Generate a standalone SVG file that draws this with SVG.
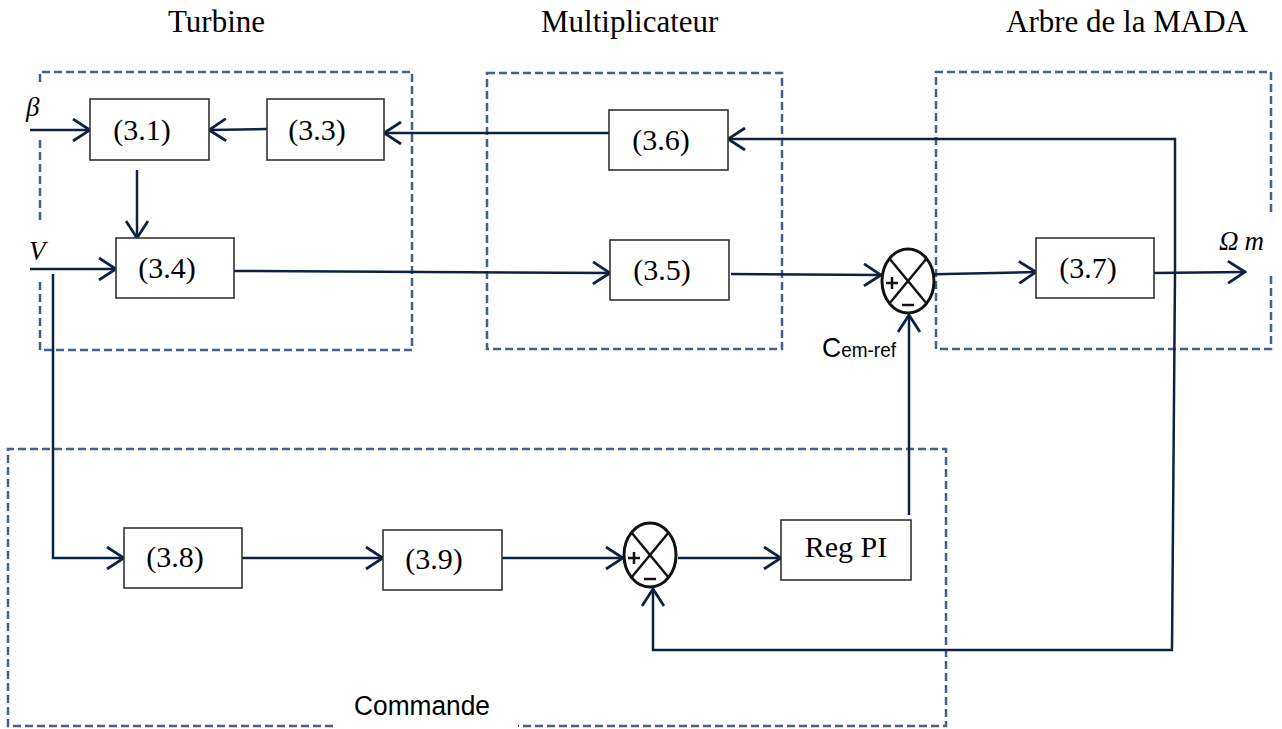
<svg xmlns="http://www.w3.org/2000/svg" width="1282" height="729" viewBox="0 0 1282 729">
<style>
.frame{fill:none;stroke:#41618f;stroke-width:2.5;stroke-dasharray:8 4}
.blk{fill:#fff;stroke:#333;stroke-width:1.6}
.lbl{font-family:"Liberation Serif",serif;font-size:30px;fill:#000}
.title{font-family:"Liberation Serif",serif;font-size:31px;fill:#000}
.var{font-family:"Liberation Serif",serif;font-style:italic;font-size:27px;fill:#000}
.wire{fill:none;stroke:#0d2240;stroke-width:2.5}
.sum{fill:#fff;stroke:#111;stroke-width:3}
.sym{stroke:#111;stroke-width:2.5}
</style>
<defs>
<marker id="arr" viewBox="0 0 20 24" refX="18" refY="12" markerWidth="20" markerHeight="24" markerUnits="userSpaceOnUse" orient="auto">
<path d="M1,1 L18,12 L1,23" fill="none" stroke="#0d2240" stroke-width="2.8"/>
</marker>
</defs>
<rect width="1282" height="729" fill="#fff"/>

<g id="titles">
<text class="title" x="168" y="32">Turbine</text>
<text class="title" x="541" y="32">Multiplicateur</text>
<text class="title" x="1006" y="32">Arbre de la MADA</text>
</g>

<g id="frames">
<path class="frame" d="M40,82 L40,72 L412,72 L412,350 L40,350 L40,282 M40,220 L40,140"/>
<rect class="frame" x="487" y="73" width="295" height="276"/>
<path class="frame" d="M1271,212 L1271,72 L936,72 L936,349 L1271,349 L1271,273"/>
<path class="frame" d="M333,726 L8,726 L8,449 L946,449 L946,726 L518,726"/>
<text x="422" y="715" text-anchor="middle" font-family="Liberation Sans,Arial,sans-serif" font-size="27" textLength="136" lengthAdjust="spacingAndGlyphs">Commande</text>
</g>

<g id="connectors">
<line class="wire" x1="30" y1="130" x2="90" y2="130" marker-end="url(#arr)"/>
<line class="wire" x1="30" y1="269" x2="116" y2="269" marker-end="url(#arr)"/>
<line class="wire" x1="267" y1="129" x2="209" y2="130" marker-end="url(#arr)"/>
<line class="wire" x1="137" y1="170" x2="137" y2="238" marker-end="url(#arr)"/>
<line class="wire" x1="609" y1="133" x2="384" y2="133" marker-end="url(#arr)"/>
<line class="wire" x1="234" y1="271" x2="610" y2="273" marker-end="url(#arr)"/>
<line class="wire" x1="731" y1="274" x2="881" y2="275" marker-end="url(#arr)"/>
<line class="wire" x1="898" y1="275" x2="1036" y2="272" marker-end="url(#arr)"/>
<line class="wire" x1="1154" y1="273" x2="1245" y2="272" marker-end="url(#arr)"/>
<polyline class="wire" points="1175,273 1175,139 728,139" marker-end="url(#arr)"/>
<polyline class="wire" points="1175,273 1172,650 653,650 653,589" marker-end="url(#arr)"/>
<polyline class="wire" points="53,274 53,558 124,558" marker-end="url(#arr)"/>
<line class="wire" x1="242" y1="558" x2="383" y2="558" marker-end="url(#arr)"/>
<line class="wire" x1="502" y1="558" x2="623" y2="558" marker-end="url(#arr)"/>
<line class="wire" x1="678" y1="558" x2="781" y2="558" marker-end="url(#arr)"/>
<line class="wire" x1="909" y1="515" x2="909" y2="315" marker-end="url(#arr)"/>
</g>

<g id="inputs">
<text class="var" x="26" y="116">β</text>
<text class="var" x="29" y="260">V</text>
<text class="var" x="1219" y="250" font-size="28" letter-spacing="6">Ωm</text>
<text x="822" y="357" font-family="Liberation Sans,Arial,sans-serif" textLength="74" lengthAdjust="spacingAndGlyphs"><tspan font-size="28">C</tspan><tspan font-size="20">em-ref</tspan></text>
</g>

<g id="b31"><rect class="blk" x="90" y="99" width="119" height="61"/><text class="lbl" x="142" y="140" text-anchor="middle">(3.1)</text></g>
<g id="b33"><rect class="blk" x="267" y="99" width="117" height="61"/><text class="lbl" x="317" y="140" text-anchor="middle">(3.3)</text></g>
<g id="b34"><rect class="blk" x="116" y="238" width="118" height="60"/><text class="lbl" x="167" y="278" text-anchor="middle">(3.4)</text></g>
<g id="b36"><rect class="blk" x="609" y="110" width="119" height="60"/><text class="lbl" x="661" y="150" text-anchor="middle">(3.6)</text></g>
<g id="b35"><rect class="blk" x="610" y="240" width="119" height="60"/><text class="lbl" x="662" y="280" text-anchor="middle">(3.5)</text></g>
<g id="b37"><rect class="blk" x="1036" y="238" width="118" height="60"/><text class="lbl" x="1088" y="278" text-anchor="middle">(3.7)</text></g>
<g id="b38"><rect class="blk" x="124" y="528" width="118" height="60"/><text class="lbl" x="175" y="567" text-anchor="middle">(3.8)</text></g>
<g id="b39"><rect class="blk" x="383" y="530" width="119" height="60"/><text class="lbl" x="434" y="569" text-anchor="middle">(3.9)</text></g>
<g id="regpi"><rect class="blk" x="781" y="520" width="130" height="60"/><text class="lbl" x="846" y="557" text-anchor="middle">Reg PI</text></g>

<g id="sum1">
<ellipse class="sum" cx="908" cy="281" rx="26" ry="32"/>
<line class="sym" x1="889" y1="258" x2="927" y2="304"/>
<line class="sym" x1="927" y1="258" x2="889" y2="304"/>
<line class="sym" x1="886" y1="283" x2="898" y2="283"/>
<line class="sym" x1="892" y1="277" x2="892" y2="289"/>
<line class="sym" x1="902" y1="305" x2="914" y2="305"/>
</g>
<g id="sum2">
<ellipse class="sum" cx="650" cy="555" rx="26" ry="32"/>
<line class="sym" x1="631" y1="532" x2="669" y2="578"/>
<line class="sym" x1="669" y1="532" x2="631" y2="578"/>
<line class="sym" x1="628" y1="558" x2="640" y2="558"/>
<line class="sym" x1="634" y1="552" x2="634" y2="564"/>
<line class="sym" x1="644" y1="579" x2="656" y2="579"/>
</g>
</svg>
